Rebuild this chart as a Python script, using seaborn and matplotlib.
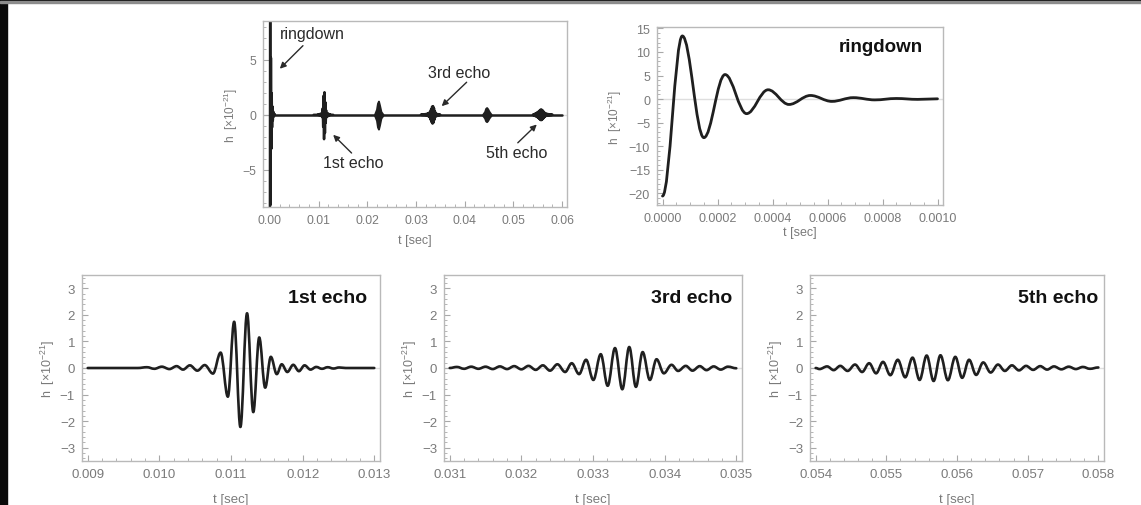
import numpy as np
import pandas as pd
import matplotlib
matplotlib.use("Agg")
import matplotlib.pyplot as plt
from matplotlib.path import Path
from matplotlib.patches import PathPatch, Rectangle
from matplotlib.ticker import MultipleLocator, FormatStrFormatter
import seaborn as sns

# ---------------------------------------------------------------------------
# Strain h (units of 1e-21) versus time t (s): successive extrema of each trace
# ---------------------------------------------------------------------------
ringdown_t = [0.0, 0.0000722, 0.0001505, 0.0002274, 0.0003057, 0.000384, 0.00046,
              0.000538, 0.000616, 0.000694, 0.000772, 0.00085, 0.000928, 0.001]
ringdown_h = [-20.6, 13.4, -8.2, 5.2, -3.1, 1.97, -1.15,
              0.76, -0.5, 0.3, -0.18, 0.12, -0.07, 0.05]

echo1_t = [0.0090, 0.0097, 0.009826, 0.00993, 0.010034, 0.01014, 0.010241, 0.01033,
           0.010426, 0.01053, 0.010633, 0.010748, 0.010855, 0.010956, 0.011044,
           0.011131, 0.011224, 0.011311, 0.011394, 0.011477, 0.011556, 0.011639,
           0.011708, 0.011786, 0.011869, 0.011948, 0.012027, 0.01211, 0.01219,
           0.01227, 0.01235, 0.01243, 0.01251, 0.0126, 0.0130]
echo1_h = [0.0, 0.0, 0.03, -0.03, 0.05, -0.04, 0.07, -0.06,
           0.10, -0.10, 0.11, -0.21, 0.58, -1.08, 1.74,
           -2.22, 2.06, -1.66, 1.15, -0.74, 0.42, -0.23,
           0.14, -0.15, 0.12, -0.12, 0.10, -0.06, 0.04,
           -0.03, 0.03, -0.02, 0.02, 0.0, 0.0]

echo3_t = [0.0310, 0.0311, 0.0312, 0.0313, 0.0314, 0.0315, 0.0316, 0.0317, 0.0318,
           0.0319, 0.0320, 0.0321, 0.0322, 0.0323, 0.0324, 0.032503, 0.032611,
           0.032703, 0.032806, 0.032903, 0.033005, 0.033108, 0.033205, 0.033307,
           0.033409, 0.033506, 0.033599, 0.033693, 0.033794, 0.033887, 0.033989,
           0.034096, 0.034188, 0.034295, 0.034389, 0.03449, 0.034584, 0.034685,
           0.034783, 0.034884, 0.0350]
echo3_h = [0.0, 0.04, -0.03, 0.05, -0.03, 0.05, -0.04, 0.06, -0.04,
           0.07, -0.05, 0.08, -0.07, 0.10, -0.10, 0.14, -0.15,
           0.18, -0.23, 0.31, -0.45, 0.52, -0.67, 0.75,
           -0.80, 0.79, -0.71, 0.60, -0.45, 0.33, -0.20,
           0.12, -0.11, 0.08, -0.10, 0.07, -0.08, 0.06,
           -0.06, 0.05, -0.01]

echo5_t = [0.0540, 0.054055, 0.054162, 0.054255, 0.054348, 0.054452, 0.054557,
           0.054657, 0.054757, 0.054855, 0.054953, 0.055057, 0.055162, 0.055267,
           0.055371, 0.055471, 0.055571, 0.055669, 0.055766, 0.055871, 0.055976,
           0.056073, 0.056171, 0.056271, 0.056371, 0.056476, 0.05658, 0.056677,
           0.056777, 0.056877, 0.056977, 0.057077, 0.057177, 0.057275, 0.057372,
           0.057477, 0.057581, 0.057681, 0.057781, 0.057881, 0.0580]
echo5_h = [0.0, -0.04, 0.06, -0.08, 0.08, -0.11, 0.13,
           -0.15, 0.18, -0.20, 0.23, -0.27, 0.31, -0.35,
           0.39, -0.45, 0.47, -0.49, 0.48, -0.46, 0.42,
           -0.37, 0.31, -0.26, 0.21, -0.17, 0.13, -0.11,
           0.10, -0.09, 0.08, -0.07, 0.07, -0.06, 0.06,
           -0.05, 0.05, -0.04, 0.04, -0.03, 0.02]

# Envelopes of the 2nd and 4th echoes (full record view only)
echo2_env_t = [0.0215, 0.0219, 0.0221, 0.0223, 0.0225, 0.0228, 0.0232]
echo2_env_hi = [0.05, 0.5, 1.05, 1.25, 0.9, 0.3, 0.05]
echo2_env_lo = [-0.05, -0.5, -1.1, -1.3, -0.95, -0.3, -0.05]
echo4_env_t = [0.0437, 0.0441, 0.0443, 0.0445, 0.0447, 0.0450, 0.0454]
echo4_env_hi = [0.05, 0.3, 0.58, 0.66, 0.55, 0.3, 0.05]
echo4_env_lo = [-0.05, -0.3, -0.55, -0.62, -0.52, -0.28, -0.05]

# Quiet strain level across the full record
record_t = [0.0, 0.06]
record_h = [0.0, 0.0]

# Overview call-outs
callout_text = ["ringdown", "1st echo", "3rd echo", "5th echo"]

# ---------------------------------------------------------------------------
sns.set_theme(style="white")
plt.rcParams["font.family"] = ["Liberation Sans", "DejaVu Sans"]
plt.rcParams["mathtext.fontset"] = "custom"
plt.rcParams["mathtext.rm"] = "Liberation Sans"
plt.rcParams["mathtext.it"] = "Liberation Sans:italic"
plt.rcParams["mathtext.bf"] = "Liberation Sans:bold"

INK = "#1f1f1f"
FRAME = "#b9b9b9"
TICK = "#a8a8a8"
LABEL = "#7a7a7a"
ZERO = "#dedede"
W, H = 1141, 506

fig = plt.figure(figsize=(W / 100, H / 100), dpi=100)
fig.patch.set_facecolor("white")


def px_axes(left, top, right, bottom):
    return fig.add_axes([left / W, 1 - bottom / H, (right - left) / W, (bottom - top) / H])


def style_axes(ax, xmaj, xmin, xfmt, ymaj, ymin, size):
    ax.set_facecolor("white")
    for s in ax.spines.values():
        s.set_visible(True)
        s.set_color(FRAME)
        s.set_linewidth(1.0)
    ax.xaxis.set_major_locator(MultipleLocator(xmaj))
    ax.xaxis.set_minor_locator(MultipleLocator(xmin))
    ax.xaxis.set_major_formatter(FormatStrFormatter(xfmt))
    ax.yaxis.set_major_locator(MultipleLocator(ymaj))
    ax.yaxis.set_minor_locator(MultipleLocator(ymin))
    ax.tick_params(which="both", direction="in", color=TICK, labelcolor=LABEL,
                   bottom=True, left=True, top=False, right=False)
    ax.tick_params(which="major", length=4.5, width=0.8, labelsize=size, pad=5)
    ax.tick_params(which="minor", length=2.5, width=0.6)
    ax.grid(False)
    ax.axhline(0, color=ZERO, lw=1.0, zorder=0)


def set_labels(ax, xl_y, yl_x, size):
    ax.set_xlabel("t [sec]", color=LABEL, fontsize=size)
    ax.set_ylabel(r"h  [$\times$10$^{-21}$]", color=LABEL, fontsize=size - 0.5)
    ax.xaxis.set_label_coords(0.5, xl_y)
    ax.yaxis.set_label_coords(yl_x, 0.5)


def wave(ax, t, h, lw=1.9):
    """Smooth trace through successive extrema (horizontal tangent at each)."""
    k = 0.364
    verts = [(t[0], h[0])]
    codes = [Path.MOVETO]
    for i in range(len(t) - 1):
        dt = t[i + 1] - t[i]
        verts += [(t[i] + k * dt, h[i]), (t[i + 1] - k * dt, h[i + 1]), (t[i + 1], h[i + 1])]
        codes += [Path.CURVE4] * 3
    ax.add_patch(PathPatch(Path(verts, codes), fill=False, ec=INK, lw=lw,
                           capstyle="round", joinstyle="round", zorder=3))


# ---------------------------- full record ----------------------------------
ax0 = px_axes(263, 22, 567, 208)
record = pd.concat([
    pd.DataFrame({"t": record_t, "h": record_h, "part": "record"}),
    pd.DataFrame({"t": ringdown_t, "h": ringdown_h, "part": "ringdown"}),
    pd.DataFrame({"t": echo1_t, "h": echo1_h, "part": "echo1"}),
    pd.DataFrame({"t": echo3_t, "h": echo3_h, "part": "echo3"}),
    pd.DataFrame({"t": echo5_t, "h": echo5_h, "part": "echo5"}),
], ignore_index=True)
sns.lineplot(data=record, x="t", y="h", units="part", estimator=None, sort=False,
             color=INK, lw=1.8, legend=False, ax=ax0)
ax0.fill_between(echo2_env_t, echo2_env_lo, echo2_env_hi, color=INK, lw=1.4, ec=INK)
ax0.fill_between(echo4_env_t, echo4_env_lo, echo4_env_hi, color=INK, lw=1.4, ec=INK)
ax0.set_xlim(-0.0014, 0.061)
ax0.set_ylim(-8.4, 8.55)
style_axes(ax0, 0.01, 0.002, "%.2f", 5, 1, 8.8)
set_labels(ax0, -0.145, -0.075, 9)

arrow = dict(arrowstyle="-|>", color="#2a2a2a", lw=1.0, mutation_scale=9,
             shrinkA=0, shrinkB=0)
ann_kw = dict(fontsize=11.5, color="#2a2a2a")
ax0.text(0.00205, 7.45, callout_text[0], ha="left", va="center", **ann_kw)
ax0.annotate("", xy=(0.00205, 4.2), xytext=(0.0068, 6.3), arrowprops=arrow)
ax0.text(0.01706, -4.3, callout_text[1], ha="center", va="center", **ann_kw)
ax0.annotate("", xy=(0.0130, -1.82), xytext=(0.01678, -3.48), arrowprops=arrow)
ax0.text(0.0388, 3.9, callout_text[2], ha="center", va="center", **ann_kw)
ax0.annotate("", xy=(0.03528, 0.79), xytext=(0.0404, 2.97), arrowprops=arrow)
ax0.text(0.0507, -3.4, callout_text[3], ha="center", va="center", **ann_kw)
ax0.annotate("", xy=(0.0548, -0.88), xytext=(0.0509, -2.55), arrowprops=arrow)

# ---------------------------- ringdown -------------------------------------
ax1 = px_axes(657, 28, 943, 206)
wave(ax1, ringdown_t, ringdown_h, lw=2.0)
ax1.set_xlim(-0.00002, 0.00102)
ax1.set_ylim(-22.5, 15.3)
style_axes(ax1, 0.0002, 0.00005, "%.4f", 5, 1, 9)
set_labels(ax1, -0.118, -0.115, 9)
ax1.text(0.93, 0.866, "ringdown", transform=ax1.transAxes, ha="right",
         va="baseline", fontsize=13.5, fontweight="bold", color="#111111")

# ---------------------------- echoes ---------------------------------------
echo_panels = [
    (82, 380, echo1_t, echo1_h, 0.009, 0.013, "1st echo", 0.956),
    (444, 742, echo3_t, echo3_h, 0.031, 0.035, "3rd echo", 0.968),
    (810, 1104, echo5_t, echo5_h, 0.054, 0.058, "5th echo", 0.98),
]
for left, right, t, h, t0, t1, title, tx in echo_panels:
    ax = px_axes(left, 276, right, 462)
    wave(ax, t, h, lw=1.9)
    pad = 0.02 * (t1 - t0)
    ax.set_xlim(t0 - pad, t1 + pad)
    ax.set_ylim(-3.5, 3.5)
    style_axes(ax, 0.001, 0.0002, "%.3f", 1, 0.2, 9.5)
    set_labels(ax, -0.172, -0.084, 9.5)
    ax.text(tx, 0.853, title, transform=ax.transAxes, ha="right", va="baseline",
            fontsize=14, fontweight="bold", color="#111111")

# dark frame edges of the slide
fig.add_artist(Rectangle((0, 0), 7 / W, 1, transform=fig.transFigure,
                         color="#0a0a0a", zorder=10))
fig.add_artist(Rectangle((0, 1 - 2 / H), 1, 2 / H, transform=fig.transFigure,
                         color="#0a0a0a", zorder=10))
fig.add_artist(Rectangle((0, 1 - 3.5 / H), 1, 1.5 / H, transform=fig.transFigure,
                         color="#8c8c8c", zorder=10))

fig.savefig("out.png", dpi=100, facecolor="white")
